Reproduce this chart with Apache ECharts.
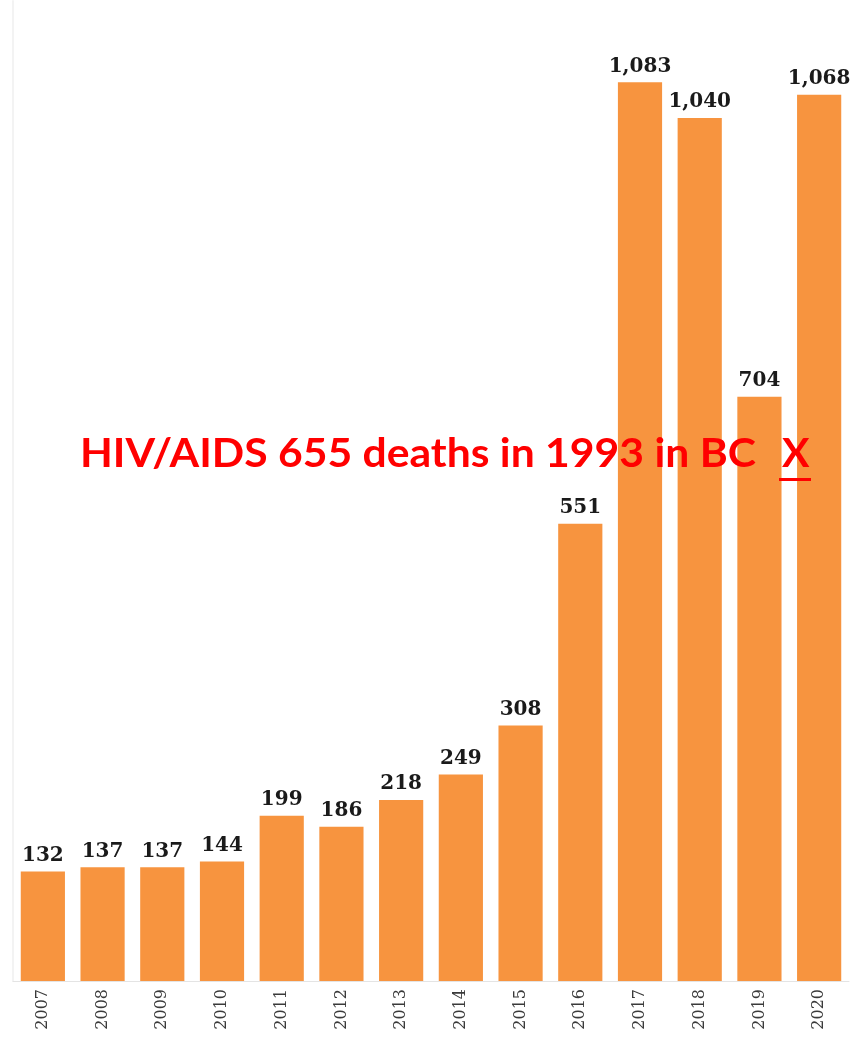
<!DOCTYPE html>
<html>
<head>
<meta charset="utf-8">
<script src="https://cdn.jsdelivr.net/npm/echarts@6/dist/echarts.min.js"></script>
<style>
html,body{margin:0;padding:0;background:#fff;}
#chart{width:853px;height:1038px;}
</style>
</head>
<body>
<div id="chart"></div>
<script>
const years = ['2007','2008','2009','2010','2011','2012','2013','2014','2015','2016','2017','2018','2019','2020'];
const deaths = [132,137,137,144,199,186,218,249,308,551,1083,1040,704,1068];
const noteText = 'HIV/AIDS 655 deaths in 1993 in BC';
const noteMark = 'X';

const chart = echarts.init(document.getElementById('chart'), null, {renderer:'canvas'});
chart.setOption({
  animation:false,
  backgroundColor:'#ffffff',
  grid:{left:13, right:4, top:1, bottom:57},
  xAxis:{
    type:'category',
    data:years,
    axisLine:{show:true, lineStyle:{color:'#e4e4e4', width:1}},
    axisTick:{show:false},
    axisLabel:{rotate:90, margin:8, color:'#3a3a3a', fontFamily:'DejaVu Serif', fontSize:16}
  },
  yAxis:{
    type:'value', min:0, max:1181,
    axisLine:{show:true, lineStyle:{color:'#f3f3f3', width:2}},
    axisTick:{show:false}, axisLabel:{show:false}, splitLine:{show:false}
  },
  series:[{
    type:'bar',
    data:deaths,
    barCategoryGap:'26%',
    itemStyle:{color:'#F7943F'},
    label:{
      show:true, position:'top', distance:6,
      color:'#1a1a1a', fontFamily:'DejaVu Serif', fontWeight:'bold', fontSize:20,
      formatter:p=>p.value.toLocaleString('en-US')
    }
  }],
  graphic:[
    {type:'text', z:100, left:80, top:433, scaleX:1.04, style:{text:noteText, fill:'#ff0000', font:'bold 41px Lato'}},
    {type:'text', z:100, left:782, top:433, style:{text:noteMark, fill:'#ff0000', font:'bold 41px Lato'}},
    {type:'rect', z:100, left:779, top:478, shape:{width:32, height:3}, style:{fill:'#ff0000'}}
  ]
});
</script>
</body>
</html>
